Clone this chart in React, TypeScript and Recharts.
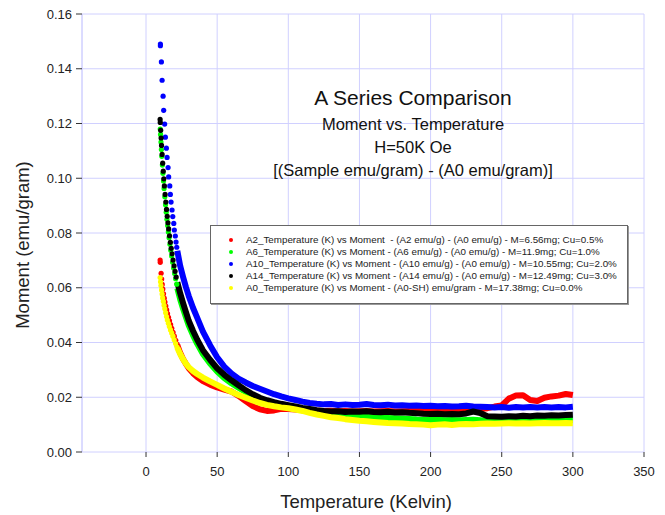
import { CartesianGrid, ComposedChart, Line, Scatter, XAxis, YAxis } from "recharts"

// shared temperature grid for the dense part of every curve (K)
const bodyTemps = [
  22, 24, 26, 28, 30, 33, 36, 40, 45, 50, 55, 60, 65, 70, 75, 80, 85, 90, 95, 100,
  105, 110, 115, 120, 125, 130, 135, 140, 145, 150, 155, 160, 165, 170, 175, 180, 185, 190, 195, 200,
  205, 210, 215, 220, 225, 230, 235, 240, 245, 250, 255, 260, 265, 270, 275, 280, 285, 290, 295, 300,
]

// A2 (red)
const a2HeadTemps = [9.9, 10.0, 10.6, 11.0, 11.4, 11.8, 12.3, 12.8, 13.3, 13.9, 14.5, 15.1, 15.8, 16.5, 17.3, 18.1, 19.0, 19.9, 20.9, 21.9]
const a2HeadMoments = [0.0701, 0.0693, 0.0653, 0.0632, 0.0612, 0.0595, 0.0578, 0.0562, 0.0548, 0.0533, 0.0519, 0.0506, 0.0492, 0.0479, 0.0465, 0.0452, 0.0437, 0.0423, 0.0408, 0.0393]
const a2Moments = [
  0.0391, 0.0362, 0.034, 0.0322, 0.0306, 0.0288, 0.0274, 0.0259, 0.0246, 0.0236, 0.0228, 0.0221, 0.0205, 0.0186, 0.0168, 0.0156, 0.015, 0.0152, 0.0158, 0.0157,
  0.0155, 0.0153, 0.0152, 0.0151, 0.015, 0.0151, 0.0149, 0.015, 0.0148, 0.0149, 0.015, 0.0148, 0.0149, 0.015, 0.0148, 0.0149, 0.015, 0.0151, 0.0149, 0.0152,
  0.0151, 0.0153, 0.0152, 0.0154, 0.0156, 0.0158, 0.0157, 0.016, 0.0166, 0.017, 0.0195, 0.0206, 0.0207, 0.019, 0.0186, 0.0198, 0.0203, 0.0206, 0.0212, 0.0208,
]

// A6 (green)
const a6HeadTemps = [10.0, 10.2, 10.5, 10.8, 11.1, 11.5, 11.9, 12.3, 12.7, 13.2, 13.7, 14.2, 14.7, 15.2, 15.7, 16.2, 16.8, 17.4, 18.0, 18.7, 19.4, 20.1, 20.8, 21.6]
const a6HeadMoments = [0.118, 0.116, 0.1132, 0.1105, 0.108, 0.1048, 0.1018, 0.099, 0.0963, 0.0932, 0.0903, 0.0876, 0.085, 0.0827, 0.0804, 0.0783, 0.0759, 0.0737, 0.0716, 0.0693, 0.0672, 0.0652, 0.0633, 0.0613]
const a6Moments = [
  0.0598, 0.0558, 0.0524, 0.0493, 0.0463, 0.0427, 0.0395, 0.0358, 0.0323, 0.0294, 0.027, 0.0251, 0.0235, 0.0219, 0.0204, 0.0191, 0.0182, 0.0176, 0.017, 0.0165,
  0.016, 0.0155, 0.015, 0.0146, 0.0142, 0.0139, 0.0137, 0.0134, 0.0131, 0.0129, 0.0128, 0.0127, 0.0125, 0.0124, 0.0123, 0.0122, 0.0121, 0.0119, 0.0118, 0.0117,
  0.0118, 0.0116, 0.0117, 0.0116, 0.0117, 0.0118, 0.0116, 0.0113, 0.0115, 0.0116, 0.0117, 0.0116, 0.0117, 0.0116, 0.0117, 0.0118, 0.0117, 0.0118, 0.0117, 0.0118,
]

// A10 (blue)
const a10HeadTemps = [10.1, 10.1, 10.8, 11.3, 12.0, 12.4, 13.1, 13.6, 14.3, 14.8, 15.5, 15.9, 16.7, 17.1, 17.6, 18.3, 18.8, 19.5, 19.9, 20.6, 21.1, 21.6]
const a10HeadMoments = [0.149, 0.1484, 0.1425, 0.1358, 0.13, 0.1248, 0.1198, 0.115, 0.111, 0.1076, 0.1039, 0.1005, 0.0972, 0.0941, 0.0913, 0.0884, 0.086, 0.0835, 0.0811, 0.0789, 0.0767, 0.0748]
const a10Moments = [
  0.0735, 0.068, 0.064, 0.0603, 0.057, 0.0527, 0.049, 0.044, 0.039, 0.0346, 0.0312, 0.0287, 0.0268, 0.0254, 0.0241, 0.0231, 0.0221, 0.0211, 0.0203, 0.0196,
  0.019, 0.0184, 0.0179, 0.0176, 0.0174, 0.0175, 0.0172, 0.0174, 0.0172, 0.0173, 0.0175, 0.0172, 0.0171, 0.0173, 0.017, 0.0171, 0.0169, 0.017, 0.0168, 0.0169,
  0.0167, 0.0168, 0.0166, 0.0167, 0.0169, 0.0166, 0.0165, 0.0164, 0.0163, 0.0164, 0.0162, 0.0164, 0.0163, 0.0164, 0.0163, 0.0164, 0.0163, 0.0164, 0.0163, 0.0165,
]

// A14 (black)
const a14HeadTemps = [9.9, 10.0, 10.3, 10.6, 10.9, 11.3, 11.7, 12.1, 12.5, 12.9, 13.4, 13.9, 14.4, 14.9, 15.4, 15.9, 16.5, 17.1, 17.7, 18.3, 19.0, 19.7, 20.4, 21.2]
const a14HeadMoments = [0.1215, 0.1204, 0.1175, 0.1147, 0.112, 0.1087, 0.1055, 0.1026, 0.0998, 0.0972, 0.0941, 0.0913, 0.0886, 0.0861, 0.0837, 0.0815, 0.079, 0.0766, 0.0744, 0.0724, 0.0701, 0.068, 0.066, 0.0639]
const a14Moments = [
  0.062, 0.058, 0.0545, 0.0512, 0.048, 0.0443, 0.041, 0.0372, 0.0337, 0.0306, 0.0282, 0.0262, 0.0244, 0.0226, 0.0211, 0.0198, 0.0189, 0.0182, 0.0176, 0.0171,
  0.0166, 0.0161, 0.0157, 0.0153, 0.015, 0.0148, 0.0149, 0.0146, 0.0148, 0.0147, 0.0149, 0.0146, 0.0145, 0.0147, 0.0144, 0.0145, 0.0143, 0.0142, 0.014, 0.0139,
  0.014, 0.0138, 0.0139, 0.0138, 0.0141, 0.0148, 0.0142, 0.0131, 0.013, 0.0129, 0.0131, 0.013, 0.0132, 0.0131, 0.0133, 0.0132, 0.0134, 0.0133, 0.0135, 0.0136,
]

// A0 (yellow)
const a0HeadTemps = [9.9, 10.2, 10.5, 10.9, 11.3, 11.7, 12.2, 12.7, 13.2, 13.8, 14.4, 15.0, 15.7, 16.4, 17.2, 18.0, 18.9, 19.8, 20.8, 21.8]
const a0HeadMoments = [0.0637, 0.0622, 0.0608, 0.0592, 0.0577, 0.0563, 0.055, 0.0536, 0.0523, 0.0509, 0.0495, 0.0482, 0.047, 0.0458, 0.0446, 0.0435, 0.0423, 0.041, 0.0396, 0.0383]
const a0Moments = [
  0.0381, 0.0358, 0.0339, 0.0323, 0.031, 0.0296, 0.0285, 0.0272, 0.0258, 0.0245, 0.0232, 0.022, 0.0208, 0.0198, 0.0188, 0.0179, 0.0172, 0.0167, 0.0163, 0.016,
  0.0155, 0.015, 0.0143, 0.0137, 0.0132, 0.0127, 0.0124, 0.012, 0.0117, 0.0114, 0.0112, 0.011, 0.0108, 0.0106, 0.0105, 0.0104, 0.0102, 0.0101, 0.01, 0.0098,
  0.01, 0.0101, 0.0099, 0.0101, 0.0102, 0.0101, 0.0103, 0.0104, 0.0103, 0.0104, 0.0105, 0.0104, 0.0105, 0.0104, 0.0105, 0.0106, 0.0105, 0.0105, 0.0106, 0.0105,
]

const legendLabels = [
  "A2_Temperature (K) vs Moment  - (A2 emu/g) - (A0 emu/g) - M=6.56mg; Cu=0.5%",
  "A6_Temperature (K) vs Moment - (A6 emu/g) - (A0 emu/g) - M=11.9mg; Cu=1.0%",
  "A10_Temperature (K) vs Moment - (A10 emu/g) - (A0 emu/g) - M=10.55mg; Cu=2.0%",
  "A14_Temperature (K) vs Moment - (A14 emu/g) - (A0 emu/g) - M=12.49mg; Cu=3.0%",
  "A0_Temperature (K) vs Moment - (A0-SH) emu/gram - M=17.38mg; Cu=0.0%",
]
const seriesColors = ["#ff0000", "#00ff00", "#0000ff", "#000000", "#ffff00"]

const xTicks = [0, 50, 100, 150, 200, 250, 300, 350]
const yTicks = [0, 0.02, 0.04, 0.06, 0.08, 0.1, 0.12, 0.14, 0.16]

const titleLines = [
  "A Series Comparison",
  "Moment vs. Temperature",
  "H=50K Oe",
  "[(Sample emu/gram) - (A0 emu/gram)]",
]
// vertical centre of each title line (px)
const titleCentres = [98, 124, 147, 170]

const FONT = "'Liberation Sans', Arial, sans-serif"
const GRID = "#d0d0ff"

const toPoints = (temps: number[], moments: number[]) =>
  temps.map((t, i) => ({ t, m: moments[i] }))

const series = [
  { head: toPoints(a2HeadTemps, a2HeadMoments), body: toPoints(bodyTemps, a2Moments) },
  { head: toPoints(a6HeadTemps, a6HeadMoments), body: toPoints(bodyTemps, a6Moments) },
  { head: toPoints(a10HeadTemps, a10HeadMoments), body: toPoints(bodyTemps, a10Moments) },
  { head: toPoints(a14HeadTemps, a14HeadMoments), body: toPoints(bodyTemps, a14Moments) },
  { head: toPoints(a0HeadTemps, a0HeadMoments), body: toPoints(bodyTemps, a0Moments) },
]

export default function App() {
  return (
    <div
      style={{
        position: "absolute",
        left: 0,
        top: 0,
        width: 665,
        height: 515,
        background: "#fff",
        fontFamily: FONT,
        color: "#222",
      }}
    >
      <ComposedChart
        width={665}
        height={515}
        margin={{ top: 14, right: 21, left: 22, bottom: 33 }}
      >
        <CartesianGrid stroke={GRID} strokeWidth={1} />
        <XAxis
          type="number"
          dataKey="t"
          domain={[-45, 350]}
          ticks={xTicks}
          height={30}
          axisLine={false}
          tickLine={{ stroke: "#333" }}
          tickSize={5}
          tickMargin={10}
          tick={{ fontSize: 13, fill: "#222", fontFamily: FONT }}
        />
        <YAxis
          type="number"
          dataKey="m"
          domain={[0, 0.16]}
          ticks={yTicks}
          width={60}
          axisLine={{ stroke: GRID }}
          tickLine={{ stroke: "#333" }}
          tickSize={6}
          tickMargin={4}
          tickFormatter={(v: number) => v.toFixed(2)}
          tick={{ fontSize: 13, fill: "#222", fontFamily: FONT }}
        />
        {series.flatMap((s, i) => [
          <Line
            key={`line-${i}`}
            data={s.body}
            dataKey="m"
            type="linear"
            stroke={seriesColors[i]}
            strokeWidth={6}
            strokeLinejoin="round"
            dot={false}
            isAnimationActive={false}
          />,
          <Scatter
            key={`dots-${i}`}
            data={s.head}
            dataKey="m"
            fill={seriesColors[i]}
            isAnimationActive={false}
            shape={(p: any) => <circle cx={p.cx} cy={p.cy} r={2.6} fill={seriesColors[i]} />}
          />,
        ])}
      </ComposedChart>

      {/* title block */}
      {titleLines.map((line, i) => (
        <div
          key={line}
          style={{
            position: "absolute",
            left: 213,
            width: 400,
            top: titleCentres[i] - (i === 0 ? 13 : 10),
            textAlign: "center",
            fontSize: i === 0 ? 21 : 16.5,
            lineHeight: i === 0 ? "26px" : "20px",
            color: "#111",
            whiteSpace: "nowrap",
          }}
        >
          {line}
        </div>
      ))}

      {/* axis titles */}
      <div
        style={{
          position: "absolute",
          left: 216,
          width: 300,
          top: 491,
          textAlign: "center",
          fontSize: 18.5,
          lineHeight: "22px",
          color: "#222",
        }}
      >
        Temperature (Kelvin)
      </div>
      <div
        style={{
          position: "absolute",
          left: 23 - 120,
          width: 240,
          top: 245 - 11,
          textAlign: "center",
          fontSize: 18.5,
          lineHeight: "22px",
          color: "#222",
          transform: "rotate(-90deg)",
        }}
      >
        Moment (emu/gram)
      </div>

      {/* legend */}
      <div
        style={{
          position: "absolute",
          left: 210,
          top: 225,
          width: 416,
          height: 69,
          border: "1px solid #666",
          boxShadow: "1px 1px 0 #999",
          background: "#fff",
          paddingTop: 8,
          boxSizing: "content-box",
        }}
      >
        {legendLabels.map((label, i) => (
          <div
            key={label}
            style={{
              display: "flex",
              alignItems: "center",
              height: 12,
              fontSize: 9.8,
              lineHeight: "12px",
              whiteSpace: "pre",
              color: "#222",
            }}
          >
            <span
              style={{
                display: "inline-block",
                width: 4,
                height: 4,
                borderRadius: 2,
                background: seriesColors[i],
                marginLeft: 18,
                marginRight: 13,
              }}
            />
            {label}
          </div>
        ))}
      </div>
    </div>
  )
}
